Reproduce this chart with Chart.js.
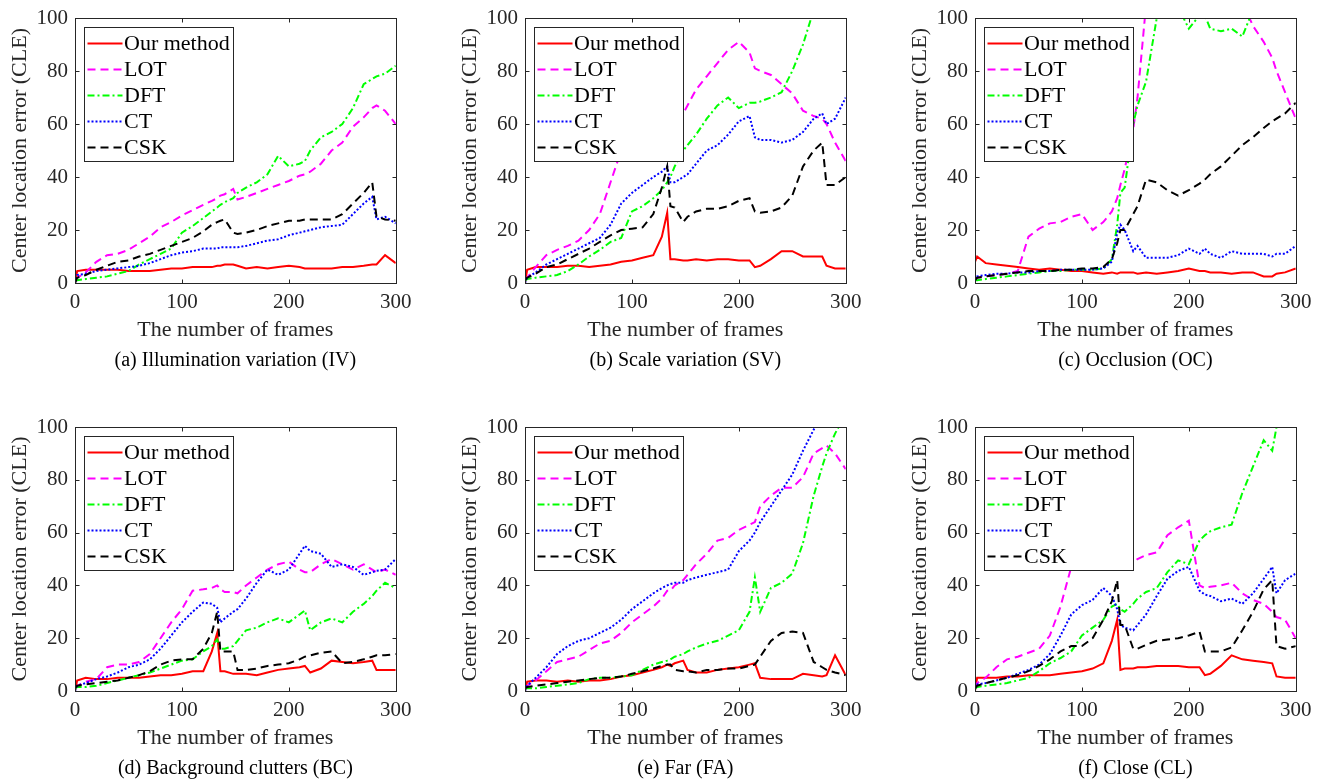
<!DOCTYPE html>
<html>
<head>
<meta charset="utf-8">
<title>Center location error</title>
<script src="https://cdn.jsdelivr.net/npm/chart.js@4.4.1/dist/chart.umd.min.js"></script>
<style>
  html, body { margin: 0; padding: 0; background: #fff; overflow: hidden; }
  canvas { position: absolute; display: block; }
</style>
</head>
<body>
<canvas id="chartA" width="420" height="385" style="left:0px;top:0px"></canvas>
<canvas id="chartB" width="420" height="385" style="left:450px;top:0px"></canvas>
<canvas id="chartC" width="420" height="385" style="left:900px;top:0px"></canvas>
<canvas id="chartD" width="420" height="376" style="left:0px;top:405px"></canvas>
<canvas id="chartE" width="420" height="376" style="left:450px;top:405px"></canvas>
<canvas id="chartF" width="420" height="376" style="left:900px;top:405px"></canvas>
<script>
const frames = [0, 2, 10, 20, 30, 40, 50, 60, 70, 80, 90, 100, 110, 120, 128, 133, 136, 140, 148, 152,
  160, 170, 180, 190, 200, 210, 215, 220, 230, 240, 250, 260, 270, 278, 282, 290, 300];

const methods = ['Our method', 'LOT', 'DFT', 'CT', 'CSK'];
const captions = ['(a) Illumination variation (IV)', '(b) Scale variation (SV)', '(c) Occlusion (OC)',
  '(d) Background clutters (BC)', '(e) Far (FA)', '(f) Close (CL)'];
const xTicks = [0, 100, 200, 300];
const yTicks = [0, 20, 40, 60, 80, 100];

// (a) IV
const ourA = [0,4.5,5,5,5,5,4.5,4.5,4.5,5, 5.5,5.5,6,6,6,6.5,6.5,7,7,6.5, 5.5,6,5.5,6,6.5,6,5.5,5.5,5.5,5.5, 6,6,6.5,7,7,10.5,7.5];
const lotA = [1,2,4,8,10.5,11,12.5,15,17.5,21, 23,25.5,27.5,29.5,31,32,33,33.5,35.5,31.5, 32.5,34,35.5,37,38.5,40.5,41,42,45,50, 53,59,62.5,66,67,65,60];
const dftA = [1,1,1.5,2,2.5,3.5,4.5,7,9,11, 13,19,21.5,24.5,27,28.5,29.5,30.5,32,34, 36,38,41,48,44,45,46,50,55,57, 60,66,75,77,78,79,82];
const ctA  = [0,3,3.5,4.5,5,5.5,6,6.5,7.5,9, 10.5,11.5,12,13,13,13,13.5,13.5,13.5,13.5, 14,15,16,16.5,18,19,19.5,20,21,21.5, 22,26,30,32.5,24,25,22.5];
const cskA = [0,2,3,5,6.5,8,8.5,10,11,12.5, 14,15.5,17,19.5,22,23,23.5,24,19,18.5, 19,20,21.5,22.5,23.5,23.5,24,24,24,24, 26,30,34,38,25,24,23.5];

// (b) SV
const ourB = [0,5,6,6,6,6.5,6.5,6,6.5,7, 8,8.5,9.5,10.5,17.5,26.5,9,9,8.5,8.5, 9,8.5,9,9,8.5,8.5,6,6.5,9,12, 12,10,10,10,6.5,5.5,5.5];
const lotB = [1,2,6,10.5,12.5,14,16,20,26,38, 50,54,56,58,59,60,60,61,64,67, 73,78,83,88,91,87,81,80,78.5,75, 71.5,65,63,62,60,53,46];
const dftB = [1,1.5,2,2.5,3,4.5,7,10,12.5,15.5, 17,27,29,32,35,38,40,44,50,52, 56,62,67,70,66,68,68,68.5,70,72, 80,90,103,110,114,120,130];
const ctB  = [0,2,4,7,9,11,13,15,17,22, 30,34,37,40,42,44,38,38,40,41, 45,50,52,56,61,63,55,54,54,53, 54,57,62,64,60,62,70];
const cskB = [1,2,3.5,6,7,9,11,13,15.5,18, 20,20.5,21,26,36,44,29,28.5,23,25, 27,28,28,29,31,32,27,26.5,27,28.5, 33,44,50,53,37,37,40];

// (c) OC
const ourC = [8,10,7.5,7,6.5,6,5.5,5,5.5,5, 4.5,4.5,4,3.5,4,3.5,4,4,4,3.5, 4,3.5,4,4.5,5.5,4.5,4.5,4,4,3.5, 4,4,2.5,2.5,3.5,4,5.5];
const lotC = [1,2,2.5,3,3.5,4.5,17.5,20.5,22.5,23, 25,26,20,23,27,32,37,43,58,70, 105,115,120,120,120,120,118,115,112,110, 106,97,91,85,80,72,62];
const dftC = [1,1,1.5,2,2.5,3,3.5,4,4.5,4.5, 5,5,5,5.5,9,22,34,36,60,67, 76,100,108,104,96,101,101,96,95,96, 93,103,110,112,114,116,118];
const ctC  = [1,2.5,3,3.5,3.5,4,4,4.5,4.5,5, 5,5,5,5.5,8,19,22,20,12,14, 9.5,9.5,9.5,10.5,13,11,13,11,9.5,12, 11,11,11,10,11,11,14];
const cskC = [1,2,2.5,3,3.5,4,4.5,4.5,4.5,5, 5,5.5,5.5,6,9,15,20,20,26,29, 39,38,35,33,35,37.5,39,41,44,48, 52,55,58.5,61,62,64,68];

// (d) BC
const ourD = [0,4,5,4.5,4.5,5,5,5,5.5,6, 6,6.5,7.5,7.5,15,22,7.5,7.5,6.5,6.5, 6.5,6,7,8,8.5,9,9.5,7,8.5,11.5, 11,10.5,11,11.5,8,8,8];
const lotD = [1,2,3.5,4.5,9,10,10,11,14,20, 26,31,38,38.5,39,40,38.5,37.5,37.5,37, 40,43,46,48,49,46,45,45,48,50, 48,46,48,46,45,46,44];
const dftD = [1,1.5,1.5,2,3,4,5,6,7,8.5, 10,11.5,12,15,17,19.5,16,16,17,19, 23,24,26,27.5,26,29,30.5,23,26,27.5, 26,30,33,36,38,41,39];
const ctD  = [0,2,3,4.5,5.5,7,9,10,12,16, 21,26,30,33.5,33,31.5,26,27.5,30,31, 35,41,46,44,46,52,55,53,52,47, 48,47,44,45,45.5,46,50];
const cskD = [1,2,2.5,3,3.5,4,5,6,7.5,10, 11.5,12,12,16,22,30,15,15,15,8, 8,8.5,9.5,10,10.5,12,13,13.5,14.5,15, 10.5,11,12,13,13.5,13.5,14];

// (e) FA
const ourE = [0,3.5,4,4,3.5,4,3.5,4,4,4.5, 5.5,6,7,8,9,10,9.5,10.5,11.5,8, 7,7,8,8.5,9,10,10.5,5,4.5,4.5, 4.5,6.5,6,5.5,6,13.5,6];
const lotE = [1,2,4,7.5,11,12,13,15.5,18,19, 22,26,29,32,35,38,38,40,42,44, 48,52,57,58,61,63,64,70,74,77, 77,81,90,92,93,90,84];
const dftE = [1,1,1,1.5,2,2.5,3,4.5,5,5, 5.5,6,8,10,11,11.5,12,13,14,15, 16.5,18,19,21,23,30,43,30,39,41, 44.5,56,74,85,90,97.5,105];
const ctE  = [0,2,5,9,14,17,19,20,22,24, 27,31,34,37,39,40,40.5,41,41,42, 43,44,45,46,53,57,60,64,70,76, 82,91,99,104,106,110,115];
const cskE = [1,1.5,2,2.5,3,3.5,4,4.5,5,5, 5.5,6.5,7.5,8.5,9.5,10,10,8,7.5,7.5, 7,8,8,8.5,8.5,9.5,10,13,19,22, 22.5,22,11,9,8,7,6];

// (f) CL
const ourF = [0,5,5,5,5.5,5.5,6,6,6,6.5, 7,7.5,8.5,10.5,19,27,8,8.5,8.5,9, 9,9.5,9.5,9.5,9,9,6,6.5,9.5,13.5, 12,11.5,11,10.5,5.5,5,5];
const lotF = [1,3,5,9,12,13,14.5,16,21,32, 47,52,53,54,54,54,53,50,48.5,50, 51.5,52.5,59,62,64.5,40,39,39.5,40,41, 37,34.5,33,30,28,27,20];
const dftF = [1,1.5,2,2.5,3,4,5,7.5,10.5,12.5, 15,21,24,27,32,33,31,30,33,35, 37.5,39,45,49.5,48,57,59,60.5,62,63, 75,85,95,91,100,110,115];
const ctF  = [1,2.5,3,4,5,6.5,8,10,14,21, 29,32.5,34.5,39,36,31,25,24,23,25, 29,36,42.5,45.5,47,38,36.5,36,34,35, 33,37,42.5,47,37,42,44.5];
const cskF = [1,2,3,4,5,6,7.5,9.5,12,15, 17,17,20,27,34,42,25,25,16,16, 17.5,19,19.5,20,21,22.5,15,15,15,16.5, 23,30,38.5,42,17,16,17];

const lineColors = ['#ff0000', '#ff00ff', '#00ff00', '#0000ff', '#000000'];
const lineDashes = [[], [8, 5], [7, 3, 2, 3], [2, 2], [8, 5]];
const axisColor = '#262626';
const serif = '"Liberation Serif", "Times New Roman", serif';

const panels = [
  { id: 'chartA', series: [ourA, lotA, dftA, ctA, cskA], top: 18, bottom: 14 },
  { id: 'chartB', series: [ourB, lotB, dftB, ctB, cskB], top: 18, bottom: 14 },
  { id: 'chartC', series: [ourC, lotC, dftC, ctC, cskC], top: 18, bottom: 14 },
  { id: 'chartD', series: [ourD, lotD, dftD, ctD, cskD], top: 22, bottom: 2 },
  { id: 'chartE', series: [ourE, lotE, dftE, ctE, cskE], top: 22, bottom: 2 },
  { id: 'chartF', series: [ourF, lotF, dftF, ctF, cskF], top: 22, bottom: 2 },
];

// legend box inside the axes plus the Matlab style box with inward ticks
const boxAndLegend = {
  id: 'boxAndLegend',
  afterDraw(chart) {
    const { ctx, chartArea: a, scales: { x, y } } = chart;
    ctx.save();

    const bx = Math.round(a.left + 9) + 0.5, by = Math.round(a.top + 9) + 0.5;
    const bw = 149, bh = 134;
    ctx.fillStyle = '#fff';
    ctx.fillRect(bx, by, bw, bh);
    ctx.strokeStyle = axisColor;
    ctx.lineWidth = 1;
    ctx.setLineDash([]);
    ctx.strokeRect(bx, by, bw, bh);

    ctx.font = '22px ' + serif;
    ctx.textBaseline = 'middle';
    ctx.textAlign = 'left';
    chart.data.datasets.forEach((ds, i) => {
      const yy = by + 16 + i * 26;
      ctx.beginPath();
      ctx.setLineDash(ds.borderDash);
      ctx.strokeStyle = ds.borderColor;
      ctx.lineWidth = ds.borderWidth;
      ctx.moveTo(bx + 3, yy);
      ctx.lineTo(bx + 38, yy);
      ctx.stroke();
      ctx.setLineDash([]);
      ctx.fillStyle = '#000';
      ctx.fillText(ds.label, bx + 39.5, yy + 1);
    });

    const l = Math.round(a.left) + 0.5, r = Math.round(a.right) + 0.5;
    const t = Math.round(a.top) + 0.5, b = Math.round(a.bottom) + 0.5;
    ctx.strokeStyle = axisColor;
    ctx.lineWidth = 1;
    ctx.strokeRect(l, t, r - l, b - t);
    ctx.beginPath();
    y.ticks.forEach(tk => {
      const py = Math.round(y.getPixelForValue(tk.value)) + 0.5;
      ctx.moveTo(l, py); ctx.lineTo(l + 4, py);
      ctx.moveTo(r, py); ctx.lineTo(r - 4, py);
    });
    x.ticks.forEach(tk => {
      const px = Math.round(x.getPixelForValue(tk.value)) + 0.5;
      ctx.moveTo(px, b); ctx.lineTo(px, b - 4);
      ctx.moveTo(px, t); ctx.lineTo(px, t + 4);
    });
    ctx.stroke();
    ctx.restore();
  }
};

panels.forEach((p, k) => {
  const datasets = methods.map((name, i) => ({
    label: name,
    data: frames.map((f, j) => ({ x: f, y: p.series[i][j] })),
    borderColor: lineColors[i],
    borderDash: lineDashes[i],
    borderWidth: 2,
    pointRadius: 0,
    tension: 0,
    fill: false,
    order: methods.length - i
  }));

  new Chart(document.getElementById(p.id), {
    type: 'line',
    data: { datasets },
    plugins: [boxAndLegend],
    options: {
      responsive: false,
      animation: false,
      events: [],
      layout: { padding: { left: 0, right: 19, top: p.top, bottom: p.bottom } },
      scales: {
        x: {
          type: 'linear',
          min: 0,
          max: 300,
          afterFit: s => { s.height = 62; },
          afterBuildTicks: s => { s.ticks = xTicks.map(v => ({ value: v })); },
          grid: { display: false, drawTicks: false },
          border: { display: false },
          ticks: { color: axisColor, padding: 8.5, maxRotation: 0, font: { family: serif, size: 21, lineHeight: 1 } },
          title: {
            display: true,
            text: 'The number of frames',
            color: axisColor,
            padding: { top: 0, bottom: 4 },
            font: { family: serif, size: 22, lineHeight: 1 }
          }
        },
        y: {
          min: 0,
          max: 100,
          afterFit: s => { s.width = 75; },
          afterBuildTicks: s => { s.ticks = yTicks.map(v => ({ value: v })); },
          grid: { display: false, drawTicks: false },
          border: { display: false },
          ticks: { color: axisColor, padding: 7, font: { family: serif, size: 21, lineHeight: 1 } },
          title: {
            display: true,
            text: 'Center location error (CLE)',
            color: axisColor,
            padding: { top: 9.5, bottom: 0 },
            font: { family: serif, size: 22, lineHeight: 1 }
          }
        }
      },
      plugins: {
        legend: { display: false },
        tooltip: { enabled: false },
        title: {
          display: true,
          text: captions[k],
          position: 'bottom',
          fullSize: false,
          color: '#000',
          padding: { top: 6, bottom: 0 },
          font: { family: serif, size: 20, weight: 'normal', lineHeight: 1 }
        }
      }
    }
  });
});
</script>
</body>
</html>
